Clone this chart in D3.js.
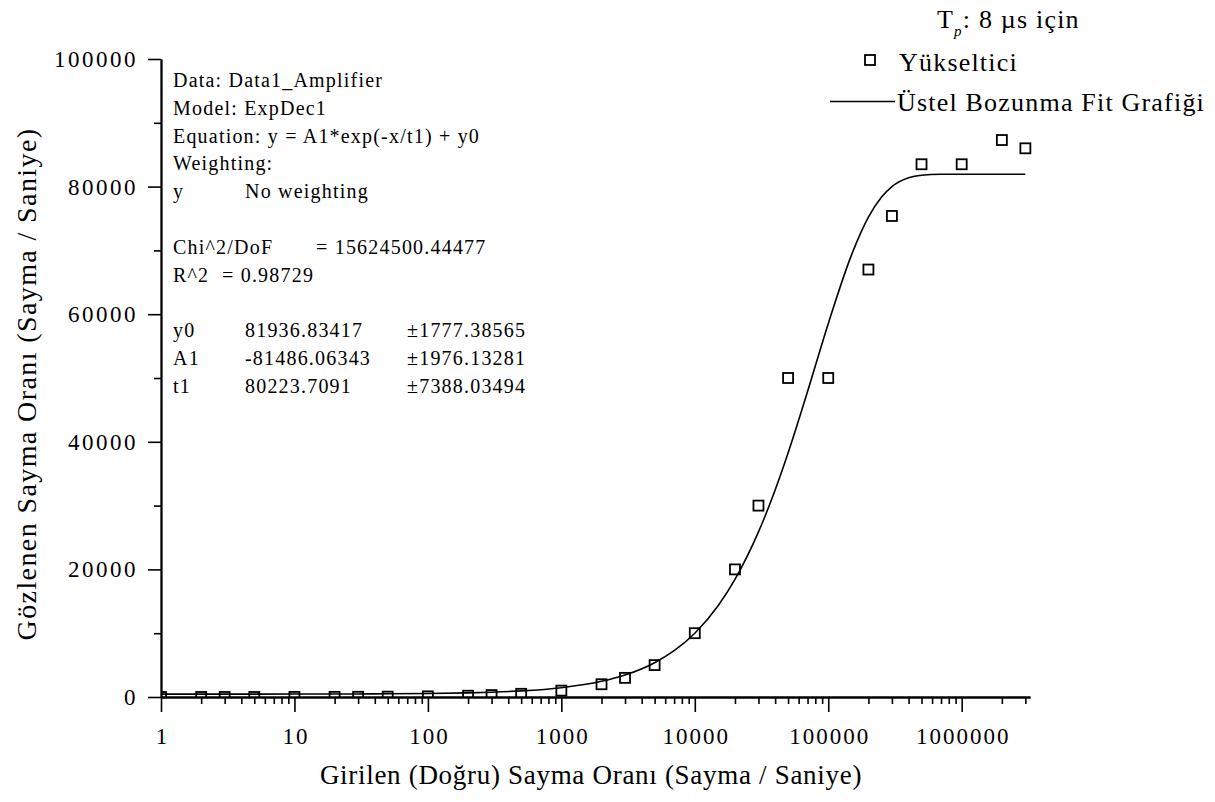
<!DOCTYPE html>
<html>
<head>
<meta charset="utf-8">
<script src="https://cdn.jsdelivr.net/npm/d3@7"></script>
<style>
  html, body { margin: 0; padding: 0; background: #fff; }
  svg { display: block; }
  text { font-family: "Liberation Serif", "Times New Roman", serif; fill: #000; }
</style>
</head>
<body>
<svg id="chart" width="1215" height="802"></svg>
<script>
// ---- data ----
const inputRates = [1,2,3,5,10,20,30,50,100,200,300,500,1000,2000,3000,5000,10000,20000,30000,50000,100000,200000,300000,500000,1000000,2000000,3000000];
const observedRates = [1,2,3,5,10,20,30,50,100,200,300,500,1000,2000,3000,5000,10000,20000,30000,50000,50000,67000,75400,83500,83500,87300,86000];

const fitX = [1,2,3,5,10,20,30,50,100,200,300,500,1000,2000,3000,5000,7000,10000,15000,20000,30000,40000,50000,70000,100000,150000,200000,250000,300000,400000,500000,700000,1000000,2000000,3000000];
const fitY = [452,453,454,456,462,472,482,503,552,654,755,957,1460,2457,3442,5374,7260,10000,14347,18431,25874,32444,38244,47885,58509,69375,75201,78325,80000,81380,81777,81924,81936,81937,81937];

const xMajorTicks = [1,10,100,1000,10000,100000,1000000];
const xTickLabels = ["1","10","100","1000","10000","100000","1000000"];
const yMajorTicks = [0,20000,40000,60000,80000,100000];
const yMinorTicks = [10000,30000,50000,70000,90000];

const xTitle = "Girilen (Doğru) Sayma Oranı (Sayma / Saniye)";
const yTitle = "Gözlenen Sayma Oranı (Sayma / Saniye)";
const legendSeries = "Yükseltici";
const legendFit = "Üstel Bozunma Fit Grafiği";

const fitInfo = [
  [["Data: Data1_Amplifier", 0]],
  [["Model: ExpDec1", 0]],
  [["Equation: y = A1*exp(-x/t1) + y0", 0]],
  [["Weighting:", 0]],
  [["y", 0], ["No weighting", 1]],
  [],
  [["Chi^2/DoF", 0], ["= 15624500.44477", 3]],
  [["R^2", 0], ["=  0.98729", 2]],
  [],
  [["y0", 0], ["81936.83417", 1], ["±1777.38565", 4]],
  [["A1", 0], ["-81486.06343", 1], ["±1976.13281", 4]],
  [["t1", 0], ["80223.7091", 1], ["±7388.03494", 4]]
];

// ---- layout ----
const svg = d3.select("#chart");
const mLeft = 161, mRight = 1030, mTop = 59, mBottom = 697;

const x = d3.scaleLog().domain([1, 3.25e6]).range([mLeft, mRight]);
const y = d3.scaleLinear().domain([0, 100000]).range([mBottom, mTop]);

// minor x ticks
const xMinor = [];
for (let d = 1; d <= 1e6; d *= 10) {
  for (let k = 2; k <= 9; k++) { const v = k * d; if (v <= 3e6) xMinor.push(v); }
}

svg.append("defs").append("clipPath").attr("id", "plotClip")
  .append("rect").attr("x", mLeft).attr("y", mTop - 10).attr("width", mRight - mLeft + 10).attr("height", mBottom - mTop + 10);

// fit line
const line = d3.line().x((d) => x(d[0])).y((d) => y(d[1])).curve(d3.curveMonotoneX);
svg.append("path")
  .datum(fitX.map((v, i) => [v, fitY[i]]))
  .attr("clip-path", "url(#plotClip)")
  .attr("d", line)
  .attr("fill", "none").attr("stroke", "#000").attr("stroke-width", 1.6);

// data squares
const sq = 10;
svg.append("g").attr("clip-path", "url(#plotClip)")
  .selectAll("rect").data(inputRates.map((v, i) => [v, observedRates[i]])).join("rect")
  .attr("x", (d) => x(d[0]) - sq / 2).attr("y", (d) => y(d[1]) - sq / 2)
  .attr("width", sq).attr("height", sq)
  .attr("fill", "none").attr("stroke", "#000").attr("stroke-width", 1.8);

// axes
function styleAxis(g) {
  g.attr("font-family", null);
  g.selectAll("path.domain").attr("stroke", "#000").attr("stroke-width", 1.8);
  g.selectAll(".tick line").attr("stroke", "#000").attr("stroke-width", 1.6);
  g.selectAll(".tick text").attr("fill", "#000");
}

const gxMinor = svg.append("g").attr("transform", `translate(0,${mBottom})`)
  .call(d3.axisBottom(x).tickValues(xMinor).tickSize(7).tickSizeOuter(0).tickFormat(""));
styleAxis(gxMinor);
const gx = svg.append("g").attr("transform", `translate(0,${mBottom})`)
  .call(d3.axisBottom(x).tickValues(xMajorTicks).tickSize(15).tickSizeOuter(0)
    .tickFormat((d, i) => xTickLabels[i]));
styleAxis(gx);
gx.attr("font-size", 23);
gx.selectAll(".tick text").attr("dy", 0).attr("y", 47).attr("dx", 1)
  .style("letter-spacing", "2px");

const gyMinor = svg.append("g").attr("transform", `translate(${mLeft},0)`)
  .call(d3.axisLeft(y).tickValues(yMinorTicks).tickSize(7).tickSizeOuter(0).tickFormat(""));
styleAxis(gyMinor);
const gy = svg.append("g").attr("transform", `translate(${mLeft},0)`)
  .call(d3.axisLeft(y).tickValues(yMajorTicks).tickSize(13).tickSizeOuter(0).tickFormat(d3.format("d")));
styleAxis(gy);
gy.attr("font-size", 23);
gy.selectAll(".tick text").attr("x", -23).attr("dy", "0.33em").style("letter-spacing", "2.5px");

// titles
svg.append("text").attr("x", 591).attr("y", 784).attr("text-anchor", "middle")
  .attr("font-size", 27).style("letter-spacing", "0.7px").text(xTitle);
svg.append("text").attr("transform", `translate(36,384) rotate(-90)`).attr("text-anchor", "middle")
  .attr("font-size", 28).style("letter-spacing", "1.4px").text(yTitle);

// fit info box text
const colX = [173, 245, 222, 316, 407];
const info = svg.append("g").attr("font-size", 20).style("letter-spacing", "1.2px");
fitInfo.forEach((row, i) => {
  row.forEach(([t, c]) => {
    info.append("text").attr("x", colX[c]).attr("y", 87 + i * 27.8).text(t);
  });
});

// legend
const lg = svg.append("g").attr("font-size", 26).style("letter-spacing", "1.2px");
const title = lg.append("text").attr("x", 937).attr("y", 28);
title.append("tspan").text("T");
title.append("tspan").attr("font-size", 15).attr("font-style", "italic").attr("dy", 8).text("p");
title.append("tspan").attr("dy", -8).text(": 8 µs için");

lg.append("rect").attr("x", 865).attr("y", 55).attr("width", sq).attr("height", sq)
  .attr("fill", "none").attr("stroke", "#000").attr("stroke-width", 1.8);
lg.append("text").attr("x", 899).attr("y", 71).text(legendSeries);
lg.append("line").attr("x1", 830).attr("x2", 895).attr("y1", 101.5).attr("y2", 101.5)
  .attr("stroke", "#000").attr("stroke-width", 1.6);
lg.append("text").attr("x", 897).attr("y", 111).text(legendFit);
</script>
</body>
</html>
